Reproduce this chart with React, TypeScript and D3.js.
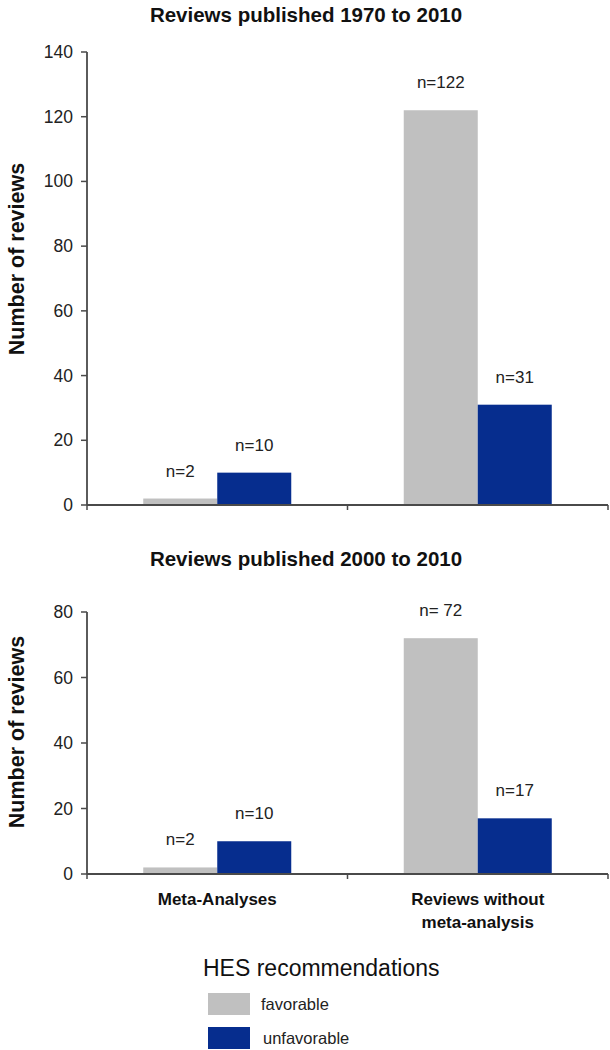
import React from "react";
import * as d3 from "d3";

const categories = ["Meta-Analyses", "Reviews without meta-analysis"];
const categoryLines = [["Meta-Analyses"], ["Reviews without", "meta-analysis"]];
const series = ["favorable", "unfavorable"];
const colors = ["#c0c0c0", "#062d8e"];

const panel1Title = "Reviews published 1970 to 2010";
const panel1Favorable = [2, 122];
const panel1Unfavorable = [10, 31];
const panel1Labels = [["n=2", "n=10"], ["n=122", "n=31"]];
const panel1Ticks = [0, 20, 40, 60, 80, 100, 120, 140];

const panel2Title = "Reviews published 2000 to 2010";
const panel2Favorable = [2, 72];
const panel2Unfavorable = [10, 17];
const panel2Labels = [["n=2", "n=10"], ["n= 72", "n=17"]];
const panel2Ticks = [0, 20, 40, 60, 80];

const legendTitle = "HES recommendations";
const yLabel = "Number of reviews";

const FONT = "'Liberation Sans', Arial, Helvetica, sans-serif";
const AXIS = "#4a4a4a";
const TEXT = "#222";

type PanelProps = {
  title: string;
  titleY: number;
  fav: number[];
  unfav: number[];
  labels: string[][];
  ticks: number[];
  top: number;
  bottom: number;
  yLabelCenter: number;
  showCats: boolean;
};

function Panel({ title, titleY, fav, unfav, labels, ticks, top, bottom, yLabelCenter, showCats }: PanelProps) {
  const x0 = 87;
  const x1 = 608;
  const xBand = d3.scaleBand<string>().domain(categories).range([x0, x1]).paddingInner(0).paddingOuter(0);
  const groupW = 148;
  const xInner = d3.scaleBand<string>().domain(series).range([0, groupW]).padding(0);
  const yMax = ticks[ticks.length - 1];
  const y = d3.scaleLinear().domain([0, yMax]).range([bottom, top]);
  const vals = [fav, unfav];
  const bw = xBand.bandwidth();

  return (
    <g>
      <text x={306} y={titleY} textAnchor="middle" fontFamily={FONT} fontWeight="bold" fontSize={20.5} fill="#111">
        {title}
      </text>
      <text
        transform={`translate(24,${yLabelCenter}) rotate(-90)`}
        textAnchor="middle"
        fontFamily={FONT}
        fontWeight="bold"
        fontSize={21.5}
        fill="#111"
      >
        {yLabel}
      </text>
      {categories.map((c, ci) => {
        const gx = (xBand(c) as number) + bw / 2 - groupW / 2;
        return series.map((s, si) => {
          const v = vals[si][ci];
          return (
            <rect
              key={c + s}
              x={gx + (xInner(s) as number)}
              y={y(v)}
              width={xInner.bandwidth()}
              height={bottom - y(v)}
              fill={colors[si]}
            />
          );
        });
      })}
      {categories.map((c, ci) => {
        const gx = (xBand(c) as number) + bw / 2 - groupW / 2;
        return series.map((s, si) => {
          const v = vals[si][ci];
          return (
            <text
              key={"l" + c + s}
              x={gx + (xInner(s) as number) + xInner.bandwidth() / 2}
              y={y(v) - 22}
              textAnchor="middle"
              fontFamily={FONT}
              fontSize={17}
              fill={TEXT}
            >
              {labels[ci][si]}
            </text>
          );
        });
      })}
      <line x1={x0} x2={x0} y1={top} y2={bottom} stroke={AXIS} strokeWidth={1.8} />
      {ticks.map((t) => (
        <g key={t}>
          <line x1={x0 - 6} x2={x0} y1={y(t)} y2={y(t)} stroke={AXIS} strokeWidth={1.5} />
          <text x={x0 - 14} y={y(t) + 6} textAnchor="end" fontFamily={FONT} fontSize={17.5} fill={TEXT}>
            {t}
          </text>
        </g>
      ))}
      <line x1={x0} x2={x1} y1={bottom} y2={bottom} stroke={AXIS} strokeWidth={1.8} />
      {[x0, xBand(categories[1]) as number, x1].map((xx, i) => (
        <line key={i} x1={xx} x2={xx} y1={bottom} y2={bottom + 5} stroke={AXIS} strokeWidth={1.5} />
      ))}
      {showCats &&
        categories.map((c, ci) =>
          categoryLines[ci].map((ln, li) => (
            <text
              key={c + li}
              x={(xBand(c) as number) + bw / 2}
              y={bottom + 31 + li * 23}
              textAnchor="middle"
              fontFamily={FONT}
              fontWeight="bold"
              fontSize={17}
              fill="#111"
            >
              {ln}
            </text>
          ))
        )}
    </g>
  );
}

export default function App() {
  return (
    <svg width={610} height={1050} style={{ position: "absolute", left: 0, top: 0, background: "#fff" }}>
      <rect width={610} height={1050} fill="#fff" />
      <Panel
        title={panel1Title}
        titleY={22}
        fav={panel1Favorable}
        unfav={panel1Unfavorable}
        labels={panel1Labels}
        ticks={panel1Ticks}
        top={52}
        bottom={505}
        yLabelCenter={259}
        showCats={false}
      />
      <Panel
        title={panel2Title}
        titleY={566}
        fav={panel2Favorable}
        unfav={panel2Unfavorable}
        labels={panel2Labels}
        ticks={panel2Ticks}
        top={612}
        bottom={874}
        yLabelCenter={732}
        showCats={true}
      />
      <text x={203} y={976} fontFamily={FONT} fontSize={23} fill="#111">
        {legendTitle}
      </text>
      {series.map((s, i) => (
        <g key={s}>
          <rect x={208} y={993 + i * 34} width={42} height={22} fill={colors[i]} />
          <text x={261 + i * 2} y={1010 + i * 34} fontFamily={FONT} fontSize={16.5} fill={TEXT}>
            {s}
          </text>
        </g>
      ))}
    </svg>
  );
}
